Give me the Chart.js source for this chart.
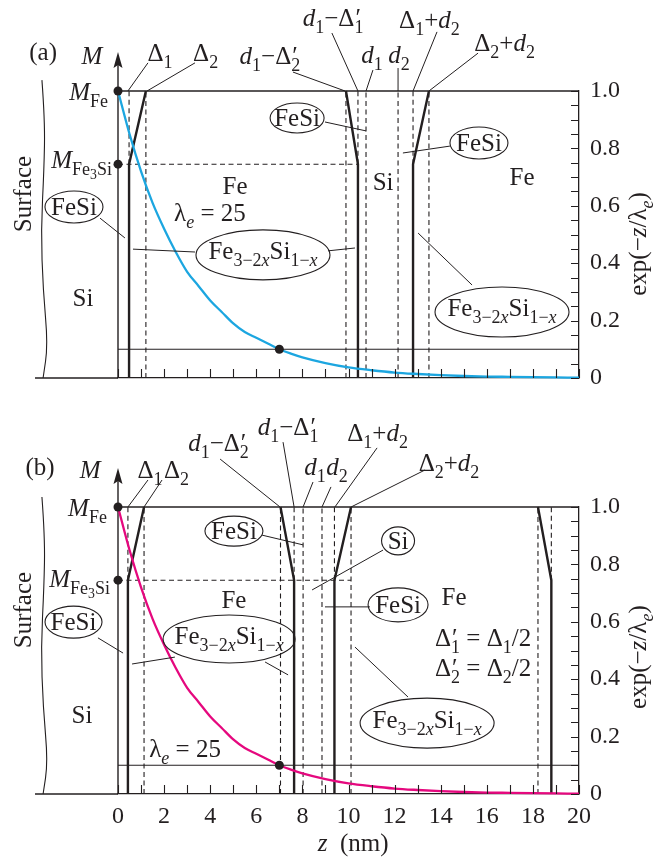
<!DOCTYPE html>
<html><head><meta charset="utf-8">
<script src="https://cdn.jsdelivr.net/npm/chart.js@4.4.1/dist/chart.umd.min.js"></script>
<style>
html,body{margin:0;padding:0;background:#fff;}
#wrap{position:relative;width:662px;height:861px;background:#fff;}
canvas{position:absolute;left:0;top:0;}
</style></head><body>
<div id="wrap"><canvas id="ca" width="662" height="861"></canvas><canvas id="cb" width="662" height="861"></canvas></div>
<script>
// ---------------- data ----------------
const zMin = 0, zMax = 20;
const xTickLabels = [0, 2, 4, 6, 8, 10, 12, 14, 16, 18, 20];
const yTickLabels = ['0', '0.2', '0.4', '0.6', '0.8', '1.0'];

// exp(-z/lambda_e)
const curveZ = [0,0.5,1,1.5,2,2.5,3,3.5,4,4.5,5,5.5,6,6.5,7,7.5,8,9,10,11,12,13,14,15,16,17,18,19,20];
const curveV = [1,0.85,0.72,0.61,0.52,0.44,0.37,0.32,0.27,0.23,0.19,0.16,0.14,0.12,0.10,0.085,0.072,0.052,0.037,0.027,0.019,0.014,0.010,0.007,0.005,0.004,0.003,0.002,0.001];

const mFe = 1.0;
const mFe3Si = 0.745;
const markZ = 7.0, markV = 0.1;

// panel (a) magnetisation profile
const profileAZ = [0.48,0.48,1.21,null,9.89,10.41,10.41,null,12.80,12.80,13.49];
const profileAV = [0,0.745,1,null,1,0.745,0,null,0,0.745,1];
const dashFullAZ = [1.21, 9.89, 10.76, 12.15, 13.49];
const dashUpperAZ = [0.48, 10.41, 12.80];
const dashLevelEndAZ = 10.41;

// panel (b) magnetisation profile
const profileBZ = [0.43,0.43,1.13,null,7.05,7.64,7.64,null,9.39,9.39,10.11,null,18.22,18.80,18.80];
const profileBV = [0,0.745,1,null,1,0.745,0,null,0,0.745,1,null,1,0.745,0];
const dashFullBZ = [1.13, 7.05, 8.03, 8.85, 10.11, 18.22];
const dashUpperBZ = [0.43, 7.64, 9.39, 18.80];
const dashLevelEndBZ = 10.11;

// ---------------- styling helpers ----------------
const FONT = '"Liberation Serif","Times New Roman",serif';
const INK = '#231f20';
function R(t){return {t:t,k:'n'};}
function I(t){return {t:t,k:'n',it:true};}
function S(t){return {t:t,k:'sub'};}
function SI(t){return {t:t,k:'sub',it:true};}
function S2(t){return {t:t,k:'sub2'};}
function PS(t){return {t:t,k:'ps'};}
function fontOf(k,it,s){const m=(k==='sub'||k==='ps')?0.72:(k==='sub2'?0.55:1);return (it?'italic ':'')+(s*m).toFixed(1)+'px '+FONT;}
function richWidth(ctx,segs,s){let w=0;for(const g of segs){if(g.k==='ps'){ctx.font=fontOf('n',false,s);const a=ctx.measureText('\u2032').width;ctx.font=fontOf('sub',false,s);const b=ctx.measureText(g.t).width;w+=Math.max(a,b);}else{ctx.font=fontOf(g.k,g.it,s);w+=ctx.measureText(g.t).width;}}return w;}
function drawRich(ctx,segs,x,cy,s,align){
  const w=richWidth(ctx,segs,s);
  let cx=align==='left'?x:(align==='right'?x-w:x-w/2);
  const base=cy+0.33*s;
  ctx.textBaseline='alphabetic';ctx.textAlign='left';
  for(const g of segs){
    if(g.k==='ps'){
      ctx.font=fontOf('n',false,s);const a=ctx.measureText('\u2032').width;ctx.fillText('\u2032',cx+1,base);
      ctx.font=fontOf('sub',false,s);const b=ctx.measureText(g.t).width;ctx.fillText(g.t,cx,base+0.27*s);
      cx+=Math.max(a,b);
    }else{
      ctx.font=fontOf(g.k,g.it,s);
      const dy=g.k==='sub'?0.27*s:(g.k==='sub2'?0.42*s:0);
      ctx.fillText(g.t,cx,base+dy);
      cx+=ctx.measureText(g.t).width;
    }
  }
}
const L = {
  D1:[R('\u0394'),S('1')], D2:[R('\u0394'),S('2')],
  d1D2p:[I('d'),S('1'),R('\u2212\u0394'),PS('2')],
  d1D1p:[I('d'),S('1'),R('\u2212\u0394'),PS('1')],
  d1:[I('d'),S('1')], d2:[I('d'),S('2')],
  D1d2:[R('\u0394'),S('1'),R('+'),I('d'),S('2')],
  D2d2:[R('\u0394'),S('2'),R('+'),I('d'),S('2')],
  FeSi:[R('FeSi')], Si:[R('Si')], Fe:[R('Fe')],
  FeX:[R('Fe'),S('3\u22122'),SI('x'),R('Si'),S('1\u2212'),SI('x')],
  lam:[R('\u03bb'),SI('e'),R(' = 25')],
  exp:[R('exp(\u2212'),I('z'),R('/\u03bb'),SI('e'),R(')')],
  MFe:[I('M'),S('Fe')], MFe3Si:[I('M'),S('Fe'),S2('3'),S('Si')],
  M:[I('M')], surf:[R('Surface')],
  Dp1:[R('\u0394'),PS('1'),R(' = \u0394'),S('1'),R('/2')],
  Dp2:[R('\u0394'),PS('2'),R(' = \u0394'),S('2'),R('/2')],
  zl:[I('z'),R('  (nm)')]
};

// annotation layout (data coordinates: z in nm, v on right axis)
const annotA = {
  baseFromZ:-3.6, arrowV:1.136,
  surfZ:[-3.30,-3.17,-3.21,-3.34,-3.25,-3.04,-3.25], surfV:[1.038,0.899,0.725,0.516,0.307,0.115,0],
  texts:[
    {z:-3.25,v:1.136,s:[R('(a)')]},
    {z:-1.13,v:1.122,s:L.M},
    {z:-0.43,v:0.997,s:L.MFe,al:'right'},
    {z:-0.26,v:0.760,s:L.MFe3Si,al:'right'},
    {z:1.82,v:1.132,s:L.D1},{z:3.80,v:1.132,s:L.D2},
    {z:6.59,v:1.122,s:L.d1D2p},{z:9.33,v:1.254,s:L.d1D1p},
    {z:11.02,v:1.125,s:L.d1},{z:12.19,v:1.125,s:L.d2},
    {z:13.51,v:1.247,s:L.D1d2},{z:16.77,v:1.167,s:L.D2d2},
    {z:5.08,v:0.669,s:L.Fe},{z:17.53,v:0.700,s:L.Fe},{z:11.50,v:0.683,s:L.Si},
    {z:3.99,v:0.575,s:L.lam},{z:-1.52,v:0.279,s:L.Si},
    {z:22.56,v:0.467,s:L.exp,rot:true},{z:-4.12,v:0.641,s:L.surf,rot:true}
  ],
  ellipses:[
    {z:7.77,v:0.906,rx:27,ry:15,s:L.FeSi},
    {z:15.66,v:0.819,rx:29,ry:16,s:L.FeSi},
    {z:-1.91,v:0.596,rx:29,ry:16,s:L.FeSi},
    {z:6.29,v:0.429,rx:67,ry:25,s:L.FeX,ty:-4},
    {z:16.66,v:0.230,rx:67,ry:25,s:L.FeX,ty:-4}
  ],
  leaders:[
    [1.30,1.098,0.43,1.0],[3.34,1.098,1.26,1.0],[7.59,1.066,9.85,1.0],[9.28,1.202,10.41,1.0],
    [11.06,1.073,10.76,1.0],[12.15,1.080,12.15,1.0],[13.84,1.206,12.80,1.0],[15.62,1.132,13.49,1.0],
    [8.98,0.892,10.76,0.861],[14.40,0.808,12.36,0.784],[-0.78,0.557,0.30,0.488],
    [3.34,0.439,0.65,0.449],[9.11,0.443,10.28,0.453],[15.36,0.324,13.02,0.505]
  ]
};
const annotB = {
  baseFromZ:-3.6, arrowV:1.136,
  surfZ:[-3.30,-3.17,-3.21,-3.34,-3.25,-3.04,-3.25], surfV:[1.035,0.895,0.721,0.512,0.303,0.111,0],
  texts:[
    {z:-3.38,v:1.139,s:[R('(b)')]},
    {z:-1.21,v:1.129,s:L.M},
    {z:-0.48,v:0.997,s:L.MFe,al:'right'},
    {z:-0.35,v:0.749,s:L.MFe3Si,al:'right'},
    {z:1.39,v:1.129,s:L.D1},{z:2.54,v:1.129,s:L.D2},
    {z:4.36,v:1.223,s:L.d1D2p},{z:7.38,v:1.279,s:L.d1D1p},
    {z:8.55,v:1.139,s:L.d1},{z:9.50,v:1.139,s:L.d2},
    {z:11.26,v:1.258,s:L.D1d2},{z:14.36,v:1.153,s:L.D2d2},
    {z:5.03,v:0.676,s:L.Fe},{z:14.58,v:0.686,s:L.Fe},
    {z:2.91,v:0.157,s:L.lam},{z:-1.56,v:0.275,s:L.Si},
    {z:15.84,v:0.544,s:L.Dp1},{z:15.84,v:0.439,s:L.Dp2},
    {z:10.2,v:-0.171,s:L.zl},
    {z:22.56,v:0.477,s:L.exp,rot:true},{z:-4.12,v:0.641,s:L.surf,rot:true}
  ],
  ellipses:[
    {z:5.03,v:0.916,rx:29,ry:15,s:L.FeSi},
    {z:12.15,v:0.882,rx:16.5,ry:14,s:L.Si},
    {z:12.15,v:0.659,rx:30,ry:17,s:L.FeSi},
    {z:-1.93,v:0.599,rx:28.5,ry:16,s:L.FeSi},
    {z:4.82,v:0.540,rx:66,ry:24,s:L.FeX,ty:-3},
    {z:13.41,v:0.247,rx:67,ry:25,s:L.FeX,ty:-3}
  ],
  leaders:[
    [1.30,1.094,0.43,1.0],[1.91,1.094,1.13,1.0],[4.43,1.167,7.03,1.0],[7.16,1.226,7.64,1.0],
    [8.46,1.087,8.03,1.0],[9.24,1.070,8.85,1.0],[11.24,1.206,9.41,1.0],[13.32,1.129,10.11,1.0],
    [6.25,0.902,8.03,0.868],[11.50,0.850,8.42,0.711],[10.93,0.652,8.98,0.652],[-0.87,0.544,0.22,0.491],
    [2.47,0.477,0.61,0.453],[6.38,0.460,7.38,0.415],[12.58,0.338,10.28,0.512]
  ]
};

function vertSegs(zs,v0,v1){const out=[];zs.forEach(z=>{out.push({x:z,y:v0},{x:z,y:v1},{x:z,y:null});});return out;}
function pairs(zs,vs){const out=[];let lastX=0;zs.forEach((z,i)=>{if(z===null){out.push({x:lastX,y:null});}else{lastX=z;out.push({x:z,y:vs[i]});}});return out;}

function makeAnnot(cfg){
  return {
    id:'annot',
    beforeDatasetsDraw(chart){
      const ctx=chart.ctx, xs=chart.scales.x, ys=chart.scales.y;
      const X=z=>xs.getPixelForValue(z), Y=v=>ys.getPixelForValue(v);
      ctx.save();ctx.strokeStyle=INK;ctx.fillStyle=INK;
      ctx.lineWidth=1.3;
      ctx.beginPath();ctx.moveTo(X(cfg.baseFromZ),Y(0));ctx.lineTo(X(0),Y(0));ctx.stroke();
      // surface wavy line
      const P=cfg.surfZ.map((z,i)=>[X(z),Y(cfg.surfV[i])]);
      ctx.lineWidth=1.1;ctx.beginPath();ctx.moveTo(P[0][0],P[0][1]);
      for(let i=1;i<P.length-1;i++){const mx=(P[i][0]+P[i+1][0])/2,my=(P[i][1]+P[i+1][1])/2;ctx.quadraticCurveTo(P[i][0],P[i][1],mx,my);}
      ctx.lineTo(P[P.length-1][0],P[P.length-1][1]);ctx.stroke();
      // M axis with arrow
      const tx=X(0),ty=Y(cfg.arrowV);
      ctx.lineWidth=1.4;ctx.beginPath();ctx.moveTo(tx,Y(0));ctx.lineTo(tx,ty+10);ctx.stroke();
      ctx.beginPath();ctx.moveTo(tx,ty);ctx.lineTo(tx-4.5,ty+16);ctx.lineTo(tx,ty+13);ctx.lineTo(tx+4.5,ty+16);ctx.closePath();ctx.fill();
      ctx.restore();
    },
    afterDraw(chart){
      const ctx=chart.ctx, xs=chart.scales.x, ys=chart.scales.y, a=chart.chartArea;
      const X=z=>xs.getPixelForValue(z), Y=v=>ys.getPixelForValue(v);
      ctx.save();ctx.strokeStyle=INK;ctx.fillStyle=INK;ctx.lineWidth=1.1;
      // inward ticks
      ctx.beginPath();
      xs.ticks.forEach(t=>{const px=Math.round(X(t.value))+0.5;ctx.moveTo(px,a.bottom);ctx.lineTo(px,a.bottom-9);});
      ys.ticks.forEach(t=>{const py=Math.round(Y(t.value))+0.5;ctx.moveTo(a.right,py);ctx.lineTo(a.right-8,py);});
      ctx.stroke();
      // leaders
      ctx.lineWidth=1.0;ctx.beginPath();
      cfg.leaders.forEach(l=>{ctx.moveTo(X(l[0]),Y(l[1]));ctx.lineTo(X(l[2]),Y(l[3]));});
      ctx.stroke();
      // ellipses
      cfg.ellipses.forEach(e=>{
        const cx=X(e.z),cy=Y(e.v);
        ctx.lineWidth=1.1;ctx.beginPath();ctx.ellipse(cx,cy,e.rx,e.ry,0,0,Math.PI*2);ctx.stroke();
        drawRich(ctx,e.s,cx,cy+(e.ty||0),25,'center');
      });
      // texts
      cfg.texts.forEach(t=>{
        if(t.rot){ctx.save();ctx.translate(X(t.z),Y(t.v));ctx.rotate(-Math.PI/2);drawRich(ctx,t.s,0,0,25,'center');ctx.restore();}
        else drawRich(ctx,t.s,X(t.z),Y(t.v),25,t.al||'center');
      });
      ctx.restore();
    }
  };
}

function makeChart(id,opt){
  const common={showLine:true,pointRadius:0,pointHoverRadius:0,fill:false,tension:0,clip:false,spanGaps:false,borderColor:INK,backgroundColor:INK};
  const ds=[
    {...common,showLine:false,pointRadius:4.5,pointBorderWidth:0,pointBackgroundColor:INK,
      data:[{x:0,y:mFe},{x:0,y:mFe3Si},{x:markZ,y:markV}]},
    {...common,borderColor:opt.curveColor,borderWidth:2.3,cubicInterpolationMode:'monotone',
      data:curveZ.map((z,i)=>({x:z,y:curveV[i]}))},
    {...common,borderWidth:2.4,borderCapStyle:'butt',data:pairs(opt.profZ,opt.profV)},
    {...common,borderWidth:1.3,data:[{x:zMin,y:1},{x:zMax,y:1}]},
    {...common,borderWidth:1.1,data:[{x:zMin,y:markV},{x:zMax,y:markV}]},
    {...common,borderWidth:1.1,borderDash:[5,3.5],data:[{x:0,y:mFe3Si},{x:opt.levelEnd,y:mFe3Si}]},
    {...common,borderWidth:1.1,borderDash:[5,3.5],data:vertSegs(opt.dashUpper,mFe3Si,1)},
    {...common,borderWidth:1.1,borderDash:[5,3.5],data:vertSegs(opt.dashFull,0,1)}
  ];
  const tickFont={family:FONT,size:24};
  const yW=45, xH=opt.xLabels?45:0;
  return new Chart(document.getElementById(id),{
    type:'scatter',
    data:{datasets:ds},
    options:{
      responsive:false,animation:false,devicePixelRatio:1,events:[],
      layout:{padding:{left:118,right:83-yW,top:opt.top,bottom:opt.bottom-xH}},
      plugins:{legend:{display:false},tooltip:{enabled:false}},
      scales:{
        x:{type:'linear',position:'bottom',min:zMin,max:zMax,
          grid:{display:true,drawOnChartArea:false,drawTicks:false},
          border:{display:true,color:INK,width:1.3},
          ticks:{stepSize:1,autoSkip:false,maxRotation:0,minRotation:0,padding:8,color:INK,font:tickFont,
            callback:v=>opt.xLabels&&xTickLabels.includes(v)?String(v):''},
          afterFit:s=>{s.height=xH;}},
        y:{type:'linear',position:'right',min:0,max:1,
          grid:{display:true,drawOnChartArea:false,drawTicks:false},
          border:{display:true,color:INK,width:1.3},
          ticks:{stepSize:0.05,autoSkip:false,padding:11,color:INK,font:tickFont,
            callback:v=>{const k=Math.round(v*20);return k%4?'':yTickLabels[k/4];}},
          afterFit:s=>{s.width=yW;}}
      }
    },
    plugins:[makeAnnot(opt.annot)]
  });
}

makeChart('ca',{top:91,bottom:861-378,curveColor:'#1ca6e0',profZ:profileAZ,profV:profileAV,
  dashFull:dashFullAZ,dashUpper:dashUpperAZ,levelEnd:dashLevelEndAZ,xLabels:false,annot:annotA});
makeChart('cb',{top:507,bottom:861-794,curveColor:'#e5087e',profZ:profileBZ,profV:profileBV,
  dashFull:dashFullBZ,dashUpper:dashUpperBZ,levelEnd:dashLevelEndBZ,xLabels:true,annot:annotB});
</script>
</body></html>
